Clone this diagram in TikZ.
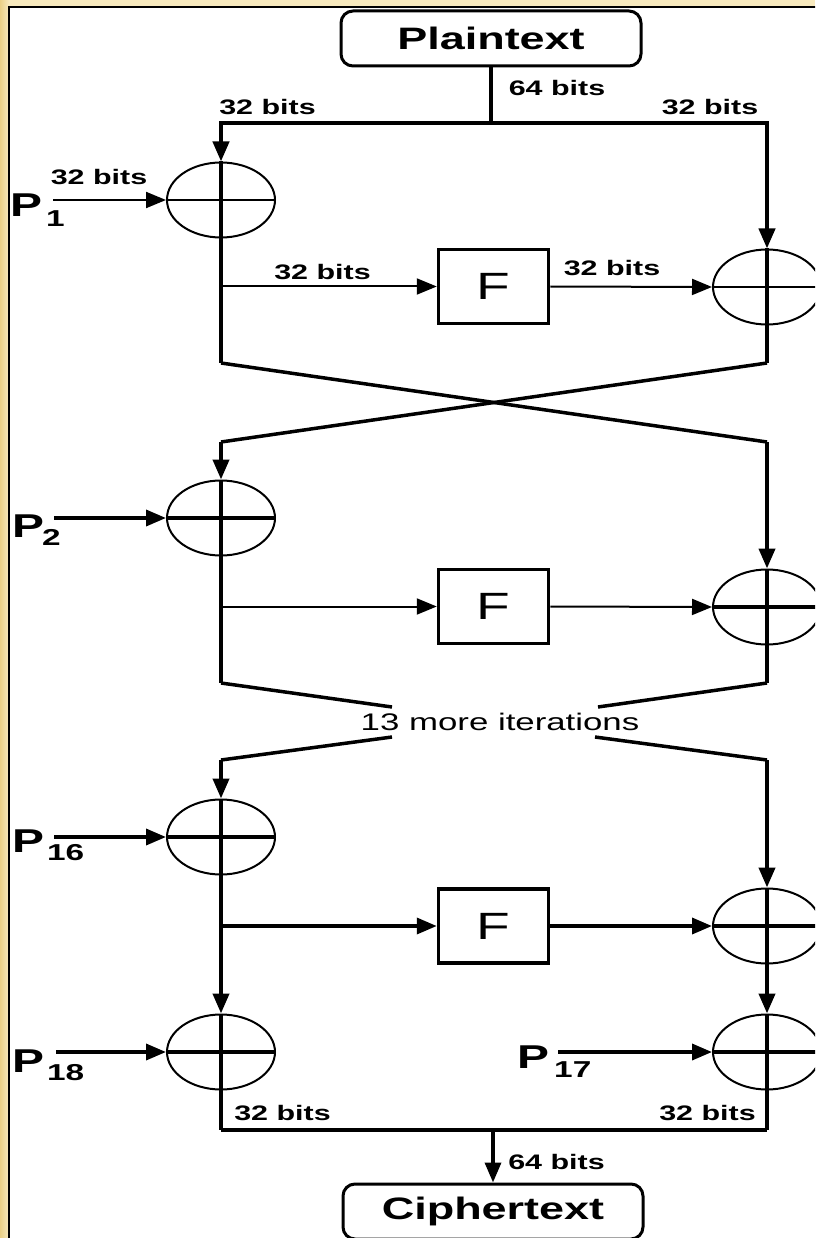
\documentclass[tikz,border=0pt]{standalone}
\usepackage{fontspec}
\usetikzlibrary{arrows.meta,shapes.geometric,calc}
\newfontfamily\lsans[FakeStretch=1.45]{Liberation Sans}
\newcommand\lblfont{\lsans\bfseries\fontsize{21}{21}\selectfont}
\newcommand\itfont{\lsans\fontsize{24}{24}\selectfont}
\newcommand\boxfont{\lsans\bfseries\fontsize{31}{31}\selectfont}
\newcommand\ffont{\lsans\fontsize{38}{38}\selectfont}
\newcommand\pfont{\lsans\bfseries\fontsize{33}{33}\selectfont}
\newcommand\subfont{\lsans\bfseries\fontsize{23}{23}\selectfont}
\definecolor{framecol}{RGB}{248,234,190}
\definecolor{framedark}{RGB}{234,208,135}
\begin{document}
\begin{tikzpicture}[x=1pt,y=-1pt,
  >={Triangle[length=20pt,width=16pt]},
  thickln/.style={line width=4pt},
  medln/.style={line width=3.5pt},
  thinln/.style={line width=2pt},
  xorc/.style={ellipse, draw, line width=2pt, minimum width=108pt, minimum height=75pt, inner sep=0pt},
  fbox/.style={rectangle, draw, line width=3.5pt, minimum width=110pt, minimum height=74pt, inner sep=0pt, font=\ffont},
  termbox/.style={rectangle, rounded corners=12pt, draw, line width=3pt, minimum width=300pt, minimum height=55pt, inner sep=0pt, font=\boxfont},
  lbl/.style={inner sep=0pt, font=\lblfont},
  plab/.style={anchor=base west, inner sep=0pt, font=\pfont},
  psub/.style={anchor=base west, inner sep=0pt, font=\subfont}]
\useasboundingbox (0,0) rectangle (815,1238);
\clip (0,0) rectangle (815,1238);
% frame
\fill[framecol] (0,0) rectangle (815,1238);
\shade[left color=framedark, right color=framecol] (0,0) rectangle (9,1238);
\fill[white] (9,7.5) rectangle (815,1238);

% nodes
\node[termbox] (pt) at (491,38.5) {Plaintext};
\node[xorc] (L1) at (221,200) {};
\node[fbox] (F1) at (493.5,286.5) {F};
\node[xorc] (R1) at (767,287) {};
\node[xorc] (L2) at (221,518) {};
\node[fbox] (F2) at (493.5,606.5) {F};
\node[xorc] (R2) at (767,607) {};
\node[xorc] (L3) at (221,837) {};
\node[fbox] (F3) at (493.5,926) {F};
\node[xorc] (R3) at (767,926) {};
\node[xorc] (L4) at (221,1052) {};
\node[xorc] (R4) at (767,1052) {};
\node[termbox] (ct) at (493,1211.5) {Ciphertext};

\coordinate (tl) at (221,123);
\coordinate (tr) at (767,123);
\coordinate (a1) at (221,363);
\coordinate (b1) at (767,363);
\coordinate (a2) at (221,442);
\coordinate (b2) at (767,442);
\coordinate (a3) at (221,683);
\coordinate (b3) at (767,683);
\coordinate (g1) at (392,707);
\coordinate (g2) at (598,707);
\coordinate (g3) at (392,737);
\coordinate (g4) at (595,737);
\coordinate (a4) at (221,760);
\coordinate (b4) at (767,760);
\coordinate (bl) at (221,1130);
\coordinate (br) at (767,1130);

% labels
\node[lbl] (t64) at (557,88) {64 bits};
\node[lbl] (t32l) at (267.5,107) {32 bits};
\node[lbl] (t32r) at (710,107) {32 bits};
\node[lbl] (t32p) at (99,177) {32 bits};
\node[lbl] (t32fi) at (322.5,272) {32 bits};
\node[lbl] (t32fo) at (612,268) {32 bits};
\node[inner sep=0pt, font=\itfont] (more) at (500,722) {13 more iterations};
\node[lbl] (b32l) at (282.5,1113) {32 bits};
\node[lbl] (b32r) at (707.5,1113) {32 bits};
\node[lbl] (b64) at (556.5,1162) {64 bits};

\node[plab] (P1) at (10,217) {P};
\node[psub] (P1s) at (46,227) {1};
\node[plab] (P2) at (12,537) {P};
\node[psub] (P2s) at (42,545) {2};
\node[plab] (P16) at (12,852) {P};
\node[psub] (P16s) at (47,860) {16};
\node[plab] (P18) at (12,1072) {P};
\node[psub] (P18s) at (47,1080) {18};
\node[plab] (P17) at (517,1068) {P};
\node[psub] (P17s) at (554,1077) {17};

% top split
\draw[thickln] (pt.south) -- (pt.south |- tl);
\draw[thickln,<->] (L1.north) -- (tl) -- (tr) -- (R1.north);

% round 1
\draw[thinln] (L1.west) -- (L1.east);
\draw[thinln] (R1.west) -- (R1.east);
\draw[thickln] (L1.north) -- (a1);
\draw[thickln] (R1.north) -- (b1);
\draw[thinln,->] ($(P1.east |- L1.west)+(11,0)$) -- (L1.west);
\draw[thinln,->] (L1.south |- F1.west) -- (F1.west);
\draw[thinln,->] (F1.east) -- (R1.west);
\draw[medln] (a1) -- (b2);
\draw[medln] (b1) -- (a2);
\draw[thickln,->] (a2) -- (L2.north);
\draw[thickln,->] (b2) -- (R2.north);

% round 2
\draw[medln] (L2.west) -- (L2.east);
\draw[medln] (R2.west) -- (R2.east);
\draw[thickln] (L2.north) -- (a3);
\draw[thickln] (R2.north) -- (b3);
\draw[medln,->] ($(P2.east |- L2.west)+(10,0)$) -- (L2.west);
\draw[thinln,->] (L2.south |- F2.west) -- (F2.west);
\draw[thinln,->] (F2.east) -- (R2.west);
\draw[medln] (a3) -- (g1);
\draw[medln] (b3) -- (g2);
\draw[medln] (g3) -- (a4);
\draw[medln] (g4) -- (b4);
\draw[thickln,->] (a4) -- (L3.north);
\draw[thickln,->] (b4) -- (R3.north);

% round 3
\draw[medln] (L3.west) -- (L3.east);
\draw[medln] (R3.west) -- (R3.east);
\draw[thickln] (L3.north) -- (L3.south);
\draw[thickln] (R3.north) -- (R3.south);
\draw[thickln,->] (L3.south) -- (L4.north);
\draw[thickln,->] (R3.south) -- (R4.north);
\draw[medln,->] ($(P16.east |- L3.west)+(10,0)$) -- (L3.west);
\draw[medln,->] (L3.south |- F3.west) -- (F3.west);
\draw[medln,->] (F3.east) -- (R3.west);

% final whitening
\draw[medln] (L4.west) -- (L4.east);
\draw[medln] (R4.west) -- (R4.east);
\draw[medln,->] ($(P18.east |- L4.west)+(12,0)$) -- (L4.west);
\draw[medln,->] ($(P17.east |- R4.west)+(9,0)$) -- (R4.west);
\draw[thickln] (L4.north) -- (bl);
\draw[thickln] (R4.north) -- (br);
\draw[medln] (bl) -- (br);
\draw[medln,->] (ct.north |- bl) -- (ct.north);

% frame line
\draw[line width=2pt] (9,1240) -- (9,7.5) -- (816,7.5);
\end{tikzpicture}
\end{document}
